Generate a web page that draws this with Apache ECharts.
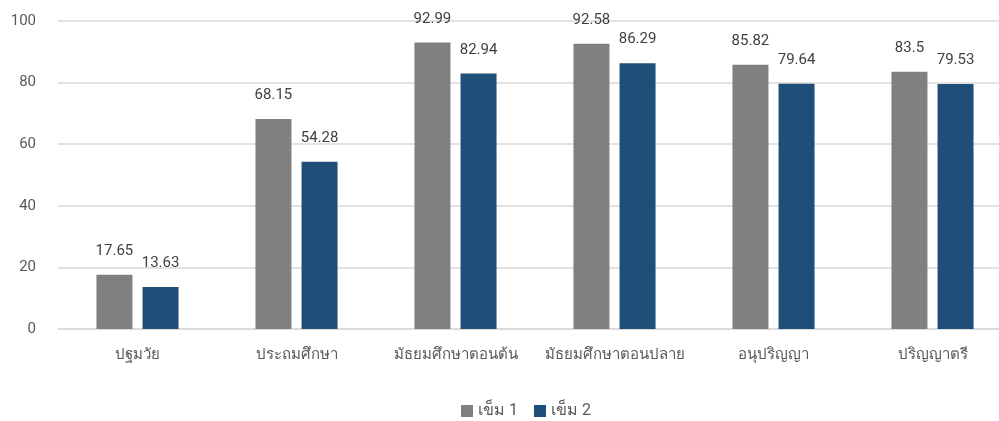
<!DOCTYPE html>
<html>
<head>
<meta charset="utf-8">
<script src="https://cdn.jsdelivr.net/npm/echarts@6/dist/echarts.min.js"></script>
<style>
  html, body { margin: 0; padding: 0; background: #fff; overflow: hidden; }
  /* the plot area runs slightly past the right edge of the window */
  #chart { width: 1012px; height: 421px; }
</style>
</head>
<body>
<div id="chart"></div>
<script>
// Education levels and the two dose series
const categories = ['ปฐมวัย', 'ประถมศึกษา', 'มัธยมศึกษาตอนต้น', 'มัธยมศึกษาตอนปลาย', 'อนุปริญญา', 'ปริญญาตรี'];
const dose1 = [17.65, 68.15, 92.99, 92.58, 85.82, 83.5];
const dose2 = [13.63, 54.28, 82.94, 86.29, 79.64, 79.53];
const seriesNames = ['เข็ม 1', 'เข็ม 2'];
const yTicks = { min: 0, max: 100, interval: 20 };

const fontFamily = 'Roboto, "Noto Sans", sans-serif';

const labelStyle = {
  show: true,
  position: 'top',
  distance: 16,
  color: '#404040',
  fontSize: 15,
  fontFamily: fontFamily
};

const chart = echarts.init(document.getElementById('chart'));
chart.setOption({
  animation: false,
  grid: { left: 58, right: 0, top: 21, bottom: 92, containLabel: false },
  legend: {
    bottom: -3,
    left: 456,
    itemWidth: 12,
    itemHeight: 12,
    itemGap: 16,
    icon: 'rect',
    textStyle: { color: '#595959', fontSize: 16, fontFamily: fontFamily },
    data: seriesNames
  },
  xAxis: {
    type: 'category',
    data: categories,
    axisLine: { show: true, lineStyle: { color: '#d9d9d9', width: 1.5 } },
    axisTick: { show: false },
    axisLabel: { color: '#595959', fontSize: 15, fontFamily: fontFamily, margin: 19, interval: 0 }
  },
  yAxis: {
    type: 'value',
    min: yTicks.min,
    max: yTicks.max,
    interval: yTicks.interval,
    axisLine: { show: false },
    axisTick: { show: false },
    splitLine: { lineStyle: { color: '#d9d9d9', width: 1.5 } },
    axisLabel: { color: '#595959', fontSize: 15, fontFamily: fontFamily, margin: 22 }
  },
  series: [
    {
      name: seriesNames[0],
      type: 'bar',
      data: dose1,
      barWidth: 36,
      barGap: '28%',
      itemStyle: { color: '#808080' },
      label: labelStyle
    },
    {
      name: seriesNames[1],
      type: 'bar',
      data: dose2,
      barWidth: 36,
      itemStyle: { color: '#1f4e79' },
      label: labelStyle
    }
  ]
});
</script>
</body>
</html>
